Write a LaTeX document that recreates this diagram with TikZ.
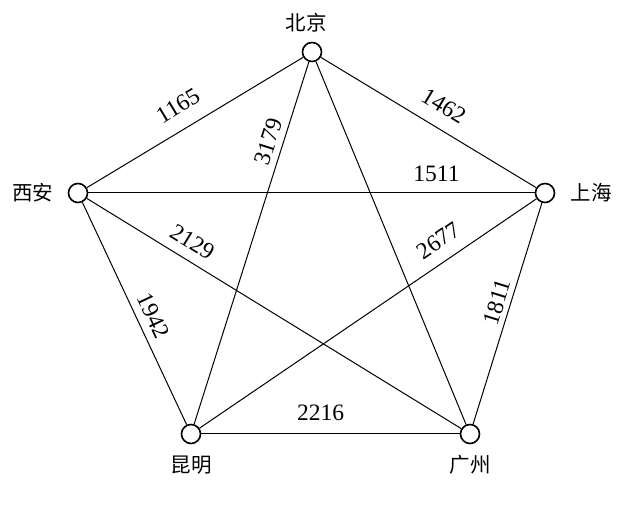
\documentclass[tikz,border=0pt]{standalone}
\usepackage{fontspec}
\setmainfont{Liberation Serif}
\newfontfamily\cjk{Noto Sans CJK SC}
\begin{document}
\begin{tikzpicture}[x=1pt,y=1pt,
  city/.style={draw, circle, line width=1.6pt, minimum size=19pt, inner sep=0pt},
  cname/.style={font=\cjk\fontsize{20.5}{24}\selectfont, inner sep=0pt},
  edge/.style={line width=1pt},
  wt/.style={font=\fontsize{23.5}{26}\selectfont, inner sep=0pt, sloped}]
\useasboundingbox (0,0) rectangle (627,513);
\node[city] (BJ) at (312,461) {};
\node[city] (XA) at (78,320) {};
\node[city] (SH) at (545,320) {};
\node[city] (KM) at (191,79) {};
\node[city] (GZ) at (470,79) {};
\node[cname] (tBJ) at (306,490) {北京};
\node[cname] (tXA) at (33,320) {西安};
\node[cname] (tSH) at (591,320) {上海};
\node[cname] (tKM) at (191,48) {昆明};
\node[cname] (tGZ) at (470,48) {广州};
\draw[edge] (XA) -- node[wt, pos=0.476, above=14.5pt] (w1) {1165} (BJ);
\draw[edge] (BJ) -- node[wt, pos=0.518, above=13.7pt] (w2) {1462} (SH);
\draw[edge] (KM) -- node[wt, pos=0.768, above=6pt] (w3) {3179} (BJ);
\draw[edge] (XA) -- node[wt, pos=0.78, above=11pt] (w4) {1511} (SH);
\draw[edge] (XA) -- node[wt, pos=0.257, above=9.6pt] (w5) {2129} (GZ);
\draw[edge] (KM) -- node[wt, pos=0.744, above=12.2pt] (w6) {2677} (SH);
\draw[edge] (XA) -- node[wt, pos=0.541, above=7.3pt] (w7) {1942} (KM);
\draw[edge] (GZ) -- node[wt, pos=0.534, above=5pt] (w8) {1811} (SH);
\draw[edge] (KM) -- node[wt, pos=0.462, above=12.5pt] (w9) {2216} (GZ);
\draw[edge] (BJ) -- (GZ);
\end{tikzpicture}
\end{document}
